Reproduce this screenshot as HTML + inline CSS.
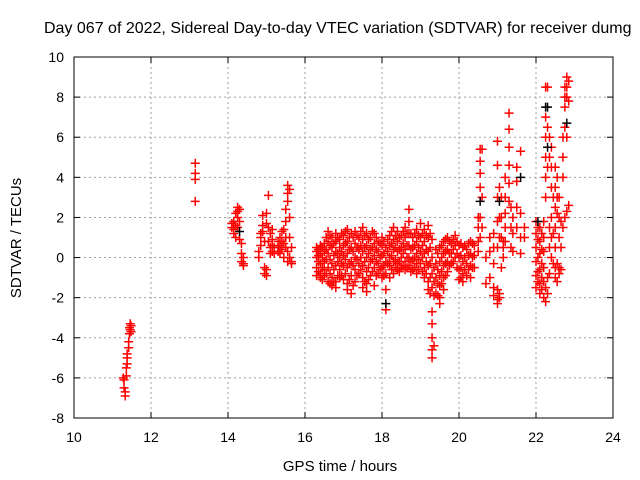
<!DOCTYPE html>
<html><head><meta charset="utf-8"><style>
html,body{margin:0;padding:0;background:#fff;}
svg{display:block;font-family:"Liberation Sans",sans-serif;}
</style></head><body>
<svg id="chart" width="640" height="480" viewBox="0 0 640 480" xmlns="http://www.w3.org/2000/svg">
<rect width="640" height="480" fill="#fff"/>
<text x="44" y="33" font-size="16" fill="#000">Day 067 of 2022, Sidereal Day-to-day VTEC variation (SDTVAR) for receiver dumg</text>
<g id="grid"></g><g id="axes"></g><g id="marks"></g>
<text x="340" y="471" font-size="15" text-anchor="middle">GPS time / hours</text>
<text x="0" y="0" font-size="15" text-anchor="middle" transform="translate(21,238) rotate(-90)">SDTVAR / TECUs</text>
</svg>
<script>
const xTicks=[10,12,14,16,18,20,22,24];
const yTicks=[-8,-6,-4,-2,0,2,4,6,8,10];
// red series: each row = [hour, y values...]
const redSeries=[
[11.28,-6.0],[11.3,-6.1,-6.5],[11.33,-6.9,-6.7],[11.36,-5.9,-5.5],[11.38,-5.0,-4.8,-5.3],[11.42,-4.5,-4.2],[11.44,-3.8,-3.5],[11.46,-3.3,-3.6],[11.48,-3.4,-3.7],
[13.15,4.7,4.2,3.9,2.8],
[14.1,1.5,1.7],[14.15,1.4,1.2,1.8],[14.2,2.2,1.6,1.0],[14.25,2.5,2.3,2.0,1.5],[14.3,2.4,1.8,0.9],[14.35,0.7,0.2,-0.2],[14.4,-0.4,0.0,-0.3],
[14.8,0.3,0.0],[14.85,1.2,1.0,0.6],[14.9,2.1,1.6,1.3],[14.95,-0.5,-0.8,0.8],[15.0,-0.9,-0.6,1.7,2.2],[15.05,3.1,1.5,0.8],[15.1,0.2,0.5,1.2],[15.15,0.3,0.6,0.9,1.4],
[15.2,0.2,0.5],[15.3,0.3,0.8,0.5],[15.35,0.6,1.0,0.2],[15.4,0.8,1.3,0.4],[15.45,1.4,0.7,0.0],[15.5,1.0,0.5,1.8,2.4],[15.55,3.6,3.2,2.8,0.3,-0.2],[15.6,3.4,2.0,1.0,0.0],[15.65,0.5,-0.2,-0.3],
[16.3,0.5,0.0,-0.5,-0.9,0.3],[16.35,0.4,-0.2,-0.7,0.1],[16.4,0.6,0.2,-0.3,-0.8,-1.0],[16.45,0.5,0.0,-0.5,-1.1],[16.5,0.7,0.3,-0.2,-0.6,-0.9],[16.55,1.0,0.4,-0.1,-0.8],[16.6,1.3,0.8,0.2,-0.5,-1.2],[16.65,1.1,0.6,-0.1,-0.8,-1.3],[16.7,1.0,0.5,-0.3,-1.0,-1.4],[16.75,0.7,0.1,-0.6,-1.2],[16.8,0.8,0.3,-0.4,-1.2,-1.5,1.2],[16.85,1.0,0.2,-0.2,-0.9],[16.9,0.9,0.5,0.0,-0.6,-1.0],[16.95,1.2,0.3,-0.3,-0.9],
[17.0,1.1,0.6,0.1,-0.4,-1.1],[17.05,1.3,0.7,-0.1,-0.8],[17.1,1.4,0.8,0.2,-0.5,-1.3,-1.6],[17.15,1.0,0.4,-0.3,-1.1],[17.2,1.2,0.5,-0.2,-0.9,-1.8],[17.25,1.0,0.3,-0.4,-1.4],[17.3,1.3,0.7,0.0,-0.6,-1.2],[17.35,1.1,0.5,-0.1,-0.9],[17.4,1.0,0.4,-0.3,-0.8],[17.45,1.3,0.6,0.0,-0.6],[17.5,1.5,0.9,0.3,-0.4,-1.0,-1.5],[17.55,1.1,0.5,-0.2,-1.2],[17.6,1.2,0.6,0.0,-0.7,-1.3,-1.7],[17.65,0.9,0.2,-0.5,-1.1],[17.7,1.0,0.4,-0.2,-0.9],[17.75,1.3,0.5,-0.1,-0.7],[17.8,1.2,0.7,0.1,-0.5,-1.4],[17.85,1.0,0.4,-0.2,-0.9],[17.9,0.8,0.3,-0.3,-0.8],[17.95,0.7,0.0,-0.6],
[18.0,0.6,0.1,-0.5,-1.0,1.0],[18.05,0.8,0.2,-0.4,-0.9],[18.1,0.5,-0.2,-0.8,-1.6,-2.6],[18.15,0.9,0.3,-0.3],[18.2,1.1,0.6,0.0,-0.4,-1.0],[18.25,1.3,0.7,0.1,-0.6],[18.3,1.5,0.9,0.4,-0.2,-0.8],[18.35,1.1,0.5,-0.1,-0.5],[18.4,1.3,0.8,0.3,-0.3,-0.6],[18.45,1.0,0.4,-0.2,-0.7],[18.5,1.1,0.5,0.0,-0.5],[18.55,1.3,0.7,0.2,-0.4],[18.6,1.5,1.0,0.4,-0.2,-0.6],[18.65,1.2,0.6,0.0,-0.5],[18.7,2.4,1.8,1.2,0.6,0.0,-0.4],[18.75,1.2,0.4,-0.2,-0.7],[18.8,1.0,0.5,-0.1,-0.6],[18.85,1.2,0.6,0.0,-0.5],[18.9,1.4,0.8,0.2,-0.3,-0.8],[18.95,1.1,0.5,-0.1,-0.6],
[19.0,1.7,1.0,0.3,-0.3],[19.05,1.2,0.6,0.0,-0.7],[19.1,1.4,0.8,0.2,-0.5,-1.0],[19.15,1.1,0.4,-0.2,-0.8],[19.2,1.6,1.0,0.3,-0.4,-1.2,-1.6],[19.25,1.2,0.5,-0.3,-1.0,-1.8],[19.3,0.9,0.0,-0.8,-1.5,-2.7,-3.3,-4.0,-4.6,-5.0],[19.35,-0.5,-1.2,-1.9,-4.4],[19.4,0.4,-0.3,-1.0,-1.8],[19.45,0.2,-0.6,-1.3,-1.9],[19.5,0.5,-0.2,-0.9,-1.4,-2.0,-2.3],[19.55,0.6,0.0,-0.7,-1.3],[19.6,0.8,0.2,-0.4,-1.0,-1.6],[19.65,0.9,0.3,-0.3,-0.9],[19.7,1.0,0.4,-0.2,-0.7],[19.75,0.8,0.2,-0.4],[19.8,0.7,0.2,-0.3],[19.85,0.9,0.4,-0.2],[19.9,1.1,0.6,0.0],[19.95,0.8,0.2,-0.5],
[20.0,0.6,0.0,-0.6,-1.1],[20.05,0.7,0.1,-0.5,-1.0],[20.1,0.5,-0.2,-0.8,-1.2],[20.15,0.6,0.0,-0.6],[20.2,0.4,-0.3,-0.9],[20.25,0.7,0.1,-0.6],[20.3,0.8,0.2,-0.4,-1.0],[20.35,0.7,0.0,-0.5],[20.4,0.6,0.1,-0.5],[20.5,2.0,1.5,0.8,0.3],[20.55,5.4,4.8,4.2,3.5,2.0,1.0],[20.6,5.4,3.0,1.5],[20.7,-1.3,0.0],[20.8,1.0,0.3,-1.0],[20.9,1.2,0.5,-0.3,-1.5,-1.9],
[21.0,5.8,4.6,3.0,1.8,0.5,-1.6,-2.1,-2.3],[21.05,3.5,2.0,1.0,-1.8,-2.0],[21.1,3.0,2.0,1.0,-0.5],[21.15,0.5,0.0,0.8],[21.2,4.0,3.0,2.2,1.5,0.8],[21.3,7.2,6.4,5.5,4.6,3.7,2.8],[21.35,2.5,1.5,0.5],[21.4,2.0,1.2,0.3],[21.5,4.5,3.8,2.5,1.5],[21.6,5.3,2.2,1.0,0.2],[21.7,1.0,1.5],
[22.0,1.8,1.2,0.5,-0.2,-0.9,-1.5],[22.05,1.5,0.9,0.0,-0.7,-1.2],[22.1,1.5,0.8,0.2,-0.6,-1.3,-1.8],[22.15,1.2,0.4,-0.3,-1.0,-1.6],[22.2,1.8,1.0,0.3,-0.5,-1.2,-2.0],[22.25,8.5,7.0,6.0,5.0,4.0,3.0,-2.2,-1.5],[22.3,8.5,6.5,4.5,-1.0,-1.8],[22.35,6.0,5.0,1.5,0.5,-0.8],[22.4,5.5,4.5,3.5,2.0,1.0,0.0],[22.45,3.0,1.2,-0.3],[22.5,4.5,3.5,2.5,1.5,0.5,-0.5,-1.0],[22.55,4.0,3.0,2.2,-0.3,-1.2],[22.6,3.0,2.0,1.0,-0.5,-0.8],[22.65,1.8,0.5,-0.6],[22.7,6.0,5.0,4.0,1.5],[22.75,8.5,8.0,7.5,6.5,2.0],[22.8,9.0,8.5,8.0,6.0,2.3],[22.85,8.8,7.8,2.6]
];
// black series: each row = [hour, y values...]
const blackSeries=[
[14.3,1.3],[18.1,-2.3],[20.55,2.8],[21.05,2.8],[21.6,4.0],[22.25,7.5],[22.3,7.5,5.5],[22.8,6.7],[22.05,1.8]
];
const L=74,R=613,T=57,B=418,xMin=10,xMax=24,yMin=-8,yMax=10;
const xs=v=>L+(v-xMin)/(xMax-xMin)*(R-L);
const ys=v=>B-(v-yMin)/(yMax-yMin)*(B-T);
const NS='http://www.w3.org/2000/svg';
function mk(tag,attrs,parent){const e=document.createElementNS(NS,tag);for(const k in attrs)e.setAttribute(k,attrs[k]);parent.appendChild(e);return e;}
const grid=document.getElementById('grid'),axes=document.getElementById('axes'),marks=document.getElementById('marks');
xTicks.forEach(t=>{const x=xs(t);
 if(t>xMin&&t<xMax){const g=mk('line',{x1:x,x2:x,y1:T,y2:B,stroke:'#a0a0a0','stroke-dasharray':'2,3'},grid);
 
 }
 mk('line',{x1:x,x2:x,y1:B,y2:B-6,stroke:'#000'},axes);mk('line',{x1:x,x2:x,y1:T,y2:T+6,stroke:'#000'},axes);
 const l=mk('text',{x:x,y:B+24,'font-size':14,'text-anchor':'middle'},axes);l.textContent=t;
 
 });
yTicks.forEach(t=>{const y=ys(t);
 if(t>yMin&&t<yMax){const g=mk('line',{x1:L,x2:R,y1:y,y2:y,stroke:'#a0a0a0','stroke-dasharray':'2,3'},grid);
 
 }
 mk('line',{x1:L,x2:L+6,y1:y,y2:y,stroke:'#000'},axes);mk('line',{x1:R,x2:R-6,y1:y,y2:y,stroke:'#000'},axes);
 const l=mk('text',{x:L-10,y:y+5,'font-size':14,'text-anchor':'end'},axes);l.textContent=t;
 
 });
const frame=mk('rect',{x:L,y:T,width:R-L,height:B-T,fill:'none',stroke:'#000'},axes);


function plus(x,y,c,name){const p=mk('path',{d:`M${x-4.5},${y}h9M${x},${y-4.5}v9`,stroke:c,'stroke-width':1.5,fill:'none'},marks);
 
 }
redSeries.forEach(r=>{for(let i=1;i<r.length;i++)plus(xs(r[0]),ys(r[i]),'#ff0000','red-point');});
blackSeries.forEach(r=>{for(let i=1;i<r.length;i++)plus(xs(r[0]),ys(r[i]),'#000','black-point');});
</script>
</body></html>
